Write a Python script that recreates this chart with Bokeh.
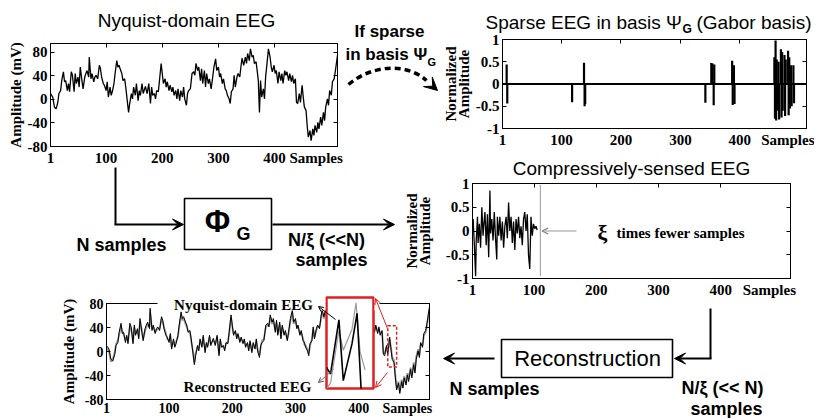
from bokeh.plotting import figure
from bokeh.models import (Range1d, LinearAxis, FixedTicker, Label, Arrow, VeeHead,
                          OpenHead, GridBox)
from bokeh.embed import file_html
from bokeh.resources import INLINE

SANS = "Liberation Sans"
SERIF = "Liberation Serif"

# ---------------- data ----------------
samples_x = [1, 5, 8, 11, 14, 16, 19, 21, 24, 26,
             28, 31, 33, 35, 38, 40, 43, 45, 47, 50,
             52, 54, 57, 59, 62, 64, 66, 69, 70, 73,
             75, 78, 80, 82, 85, 88, 90, 92, 95, 97,
             100, 102, 104, 107, 109, 111, 114, 116, 119, 121,
             123, 126, 128, 130, 133, 135, 138, 140, 142, 145,
             147, 149, 152, 154, 157, 159, 161, 164, 166, 170,
             173, 176, 179, 181, 183, 186, 188, 190, 193, 195,
             198, 200, 202, 205, 207, 209, 212, 214, 217, 219,
             221, 224, 226, 228, 231, 233, 236, 238, 240, 243,
             245, 247, 250, 253, 256, 258, 260, 263, 265, 268,
             270, 272, 275, 277, 279, 282, 284, 287, 289, 292,
             295, 297, 300, 302, 304, 307, 309, 312, 314, 316,
             319, 321, 323, 326, 328, 330, 333, 335, 338, 340,
             342, 345, 348, 350, 352, 355, 357, 360, 362, 364,
             367, 369, 371, 373, 375, 377, 380, 382, 384, 387,
             389, 392, 394, 396, 399, 401, 403, 406, 408, 411,
             413, 415, 418, 420, 422, 425, 427, 430, 432, 434,
             437, 439, 441, 444, 446, 449, 451, 453, 456, 458,
             460, 463, 465, 468, 470, 472, 475, 477, 479, 482,
             484, 487, 489, 491, 494, 496, 498, 501, 503, 506,
             508, 510, 512]
nyquist_eeg = [10, 4, -13, -16, -5, 10, 15, 32, 47, 30,
               32, 15, 27, 13, 47, 41, 13, 44, 27, 38,
               21, 55, 32, 18, 38, 44, 49, 38, 72, 35,
               44, 30, 38, 41, 35, 58, 52, 38, 27, 24,
               15, 30, 4, 21, 7, 13, 27, 44, 66, 55,
               58, 49, 44, 32, 35, 21, -5, -22, -7, 10,
               1, 21, 7, 27, -2, 15, 7, 27, 10, 22,
               10, 27, -7, 21, 7, 10, 1, 15, 13, 32,
               61, 44, 27, 35, 21, 30, 15, 24, 13, 21,
               7, 15, 1, 18, -2, 15, 4, 21, 1, -10,
               10, 15, 18, 44, 47, 41, 61, 49, 55, 32,
               52, 27, 49, 21, 44, 27, 35, 18, 32, 55,
               69, 49, 55, 38, 44, 27, 35, 18, 15, 7,
               1, -7, 13, 18, 41, 21, 38, 44, 38, 55,
               70, 58, 72, 61, 78, 66, 86, 72, 75, 61,
               64, 49, 32, -22, 32, 4, 18, 1, 38, 66,
               86, 72, 55, 47, 58, 44, 49, 27, 47, 32,
               44, 27, 49, 41, 47, 32, 44, 30, 41, 27,
               35, -5, -7, 10, -5, 24, 4, -13, -19, -44,
               -64, -53, -70, -50, -61, -44, -56, -39, -50, -30,
               -44, -22, -36, -13, 1, -10, 15, 7, 30, 35,
               47, 61, 75]
reconstructed_eeg = [6, 0, -17, -12, -1, 12, 19, 28, 42, 33,
                     29, 19, 24, 17, 42, 38, 17, 40, 30, 35,
                     24, 50, 35, 21, 35, 40, 46, 41, 66, 38,
                     41, 33, 35, 38, 38, 54, 49, 41, 30, 21,
                     18, 27, 8, 18, 10, 16, 24, 40, 61, 52,
                     55, 46, 41, 35, 32, 18, -1, -18, -3, 7,
                     4, 18, 10, 24, 2, 12, 10, 24, 13, 19,
                     13, 24, -3, 18, 10, 7, 4, 12, 16, 29,
                     56, 41, 30, 32, 24, 27, 18, 21, 16, 18,
                     10, 12, 4, 15, 1, 12, 7, 18, 4, -6,
                     7, 18, 21, 40, 44, 44, 57, 46, 52, 35,
                     48, 30, 45, 24, 41, 30, 32, 21, 29, 51,
                     64, 46, 52, 41, 41, 30, 32, 21, 12, 10,
                     4, -3, 10, 21, 37, 24, 35, 41, 41, 52,
                     66, 55, 68, 58, 74, 63, 82, 69, 72, 58,
                     61, 46, 28, -17, 28, 8, 15, 4, 34, 62,
                     82, 69, 52, 44, 55, 41, 46, 30, 44, 35,
                     41, 30, 46, 38, 44, 35, 41, 33, 38, 30,
                     32, -1, -4, 7, -1, 20, 7, -9, -15, -40,
                     -60, -50, -66, -47, -58, -41, -52, -36, -46, -27,
                     -40, -18, -32, -9, 4, -6, 12, 10, 26, 32,
                     44, 57, 70]

sparse_pos = [8, 9, 118, 138, 139, 140, 342, 352, 354, 356,
              357, 387, 388, 390, 391, 458, 459, 460, 461, 462,
              463, 465, 466, 469, 470, 471, 472, 475, 476, 477,
              481, 482, 483, 484, 486, 487, 490, 491]
sparse_val = [0.44, -0.44, -0.41, 0.48, -0.5, -0.45, -0.42, 0.47, 0.46, -0.48,
              0.44, 0.52, -0.47, 0.42, -0.45, 0.6, -0.78, 0.98, -0.82, 0.55,
              -0.6, 0.5, -0.8, 0.78, -0.75, 0.72, -0.6, 0.65, -0.72, 0.55,
              0.75, -0.7, 0.6, -0.55, 0.42, -0.5, 0.42, -0.43]

cs_x = [1, 2, 4, 6, 7, 9, 10, 12, 14, 16,
        18, 19, 21, 23, 25, 27, 29, 30, 32, 34,
        36, 38, 40, 41, 43, 45, 47, 49, 51, 53,
        55, 57, 59, 61, 63, 65, 67, 69, 71, 73,
        75, 77, 79, 81, 83, 85, 87, 89, 91, 93,
        95, 97, 99, 101, 103, 105]
cs_val = [0.05, 0.25, -0.3, -0.95, -0.2, 0.3, -0.25, 0.15, -0.35, 0.5,
          -0.1, 0.1, 0.4, -0.3, 0.35, -0.55, 0.85, -0.05, 0.25, -0.2,
          0.4, -0.15, -0.6, 0.3, -0.1, 0.3, -0.2, 0.2, -0.35, 0.1,
          0.3, -0.15, 0.6, 0.0, 0.3, -0.25, 0.2, -0.4, 0.25, -0.05,
          0.3, -0.15, 0.1, -0.3, 0.25, 0.4, 0.0, 0.35, -0.5, -0.8,
          0.3, -0.1, 0.15, 0.05, 0.1, 0.02]
cs_end = 110          # last compressed sample (grey marker line)
cs_arrow = [168, 113]  # "xi times fewer samples" pointer, in samples

zoom_x = [446, 460]   # dashed zoom window (samples)
zoom_y = [-26, 43]    # dashed zoom window (mV)
inset_orig_x = [446, 447.2, 449.7, 451.0, 453.6, 455.1, 456.3, 457.5]
inset_orig_v = [-10, -15, 26, -20, 8, 31, -26, -45]
inset_rec_x = [446, 447.2, 449.7, 451.0, 453.6, 454.8, 456.0, 457.5]
inset_rec_v = [-26, -22, 18, 3, 19, 39, 2, -12]

x_ticks = [1, 100, 200, 300, 400]
x_tick_labels = ["1", "100", "200", "300", "400"]
amp_ticks = [-80, -40, 0, 40, 80]
amp_tick_labels = ["-80", "-40", "0", "40", "80"]
norm_ticks = [-1, -0.5, 0, 0.5, 1]
norm_tick_labels = ["-1", "-0.5", "0", "0.5", "1"]

placements = []


def sub(left, top, bl, fw, br, bt, fh, bb, xr, yr):
    p = figure(width=bl + fw + br, height=bt + fh + bb, x_range=xr, y_range=yr,
               min_border_left=bl, min_border_right=br, min_border_top=bt,
               min_border_bottom=bb, frame_align=False,
               output_backend="svg", toolbar_location=None)
    p.border_fill_alpha = 0
    p.background_fill_color = "white"
    p.outline_line_color = "black"
    p.grid.visible = False
    placements.append((p, left, top, bl + fw + br, bt + fh + bb))
    return p


def common(ax):
    ax.major_tick_in = 4
    ax.major_tick_out = 0
    ax.minor_tick_line_color = None
    ax.axis_line_color = "black"
    ax.major_tick_line_color = "black"
    ax.major_label_text_font = SERIF
    ax.major_label_text_font_style = "bold"
    ax.major_label_text_color = "black"


def axes(p, yt, yl, ylabel, ystand, samples_at, tick_size="15px", lh=1.0, xstand=3,
         label_size="15px"):
    xa, ya = p.xaxis[0], p.yaxis[0]
    bottom_ticks = x_ticks + [samples_at]
    xa.ticker = FixedTicker(ticks=bottom_ticks)
    xa.major_label_overrides = dict(zip(bottom_ticks, x_tick_labels + ["Samples"]))
    ya.ticker = FixedTicker(ticks=yt)
    ya.major_label_overrides = dict(zip(yt, yl))
    for ax in (xa, ya):
        common(ax)
        ax.major_label_text_font_size = tick_size
    xa.major_tick_in = 0
    xa.major_label_standoff = xstand
    ya.major_label_standoff = 3
    ya.axis_label = ylabel
    ya.axis_label_text_font = SERIF
    ya.axis_label_text_font_style = "bold"
    ya.axis_label_text_font_size = label_size
    ya.axis_label_text_color = "black"
    ya.axis_label_text_line_height = lh
    ya.axis_label_standoff = ystand
    ta = LinearAxis(ticker=FixedTicker(ticks=x_ticks))
    ra = LinearAxis(ticker=FixedTicker(ticks=yt))
    for ax in (ta, ra):
        common(ax)
        ax.major_label_text_font_size = "1px"
        ax.major_label_text_color = None
        ax.major_label_standoff = 0
    p.add_layout(ta, "above")
    p.add_layout(ra, "right")


# ---------- panel 1: Nyquist-domain EEG ----------
p1 = sub(0, 0, 50, 287, 8, 43, 103, 22, Range1d(1, 512), Range1d(-80, 95))
axes(p1, amp_ticks, amp_tick_labels, "Amplitude (mV)", 1, 474)
p1.line(samples_x, nyquist_eeg, line_color="black", line_width=1.3)

# ---------- panel 2: sparse coefficients ----------
p2 = sub(420, 0, 82, 304, 8, 39, 89, 22, Range1d(1, 512), Range1d(-1, 1))
axes(p2, norm_ticks, norm_tick_labels, "Normalized\nAmplitude", 1, 486, lh=0.8)
p2.line([1, 512], [0, 0], line_color="black", line_width=1.8)
p2.segment(x0=sparse_pos, y0=[0] * len(sparse_pos), x1=sparse_pos, y1=sparse_val,
           line_color="black", line_width=2.2)

# ---------- panel 3: compressively-sensed ----------
p3 = sub(400, 150, 70, 320, 12, 33, 95, 22, Range1d(1, 512), Range1d(-1, 1))
axes(p3, norm_ticks, norm_tick_labels, "Normalized\nAmplitude", 10, 478, lh=0.8)
p3.line(cs_x, cs_val, line_color="black", line_width=1.3)
p3.segment(x0=[cs_end], y0=[-0.95], x1=[cs_end], y1=[0.97], line_color="#999999", line_width=1)
p3.add_layout(Arrow(x_start=cs_arrow[0], y_start=0, x_end=cs_arrow[1], y_end=0,
                    line_color="#999999", line_width=1.2,
                    end=OpenHead(size=6, line_color="#777777", line_width=1.2)))

# ---------- panel 4: reconstruction comparison ----------
p4 = sub(50, 290, 56, 323, 7, 13, 99, 16, Range1d(1, 512), Range1d(-80, 80))
axes(p4, amp_ticks, amp_tick_labels, "Amplitude (mV)", 5, 477, tick_size="14px", xstand=1)
p4.line(samples_x, reconstructed_eeg, line_color="#9a9a9a", line_width=1.8)
p4.line(samples_x, nyquist_eeg, line_color="black", line_width=1.0)
p4.quad(left=[zoom_x[0]], right=[zoom_x[1]], bottom=[zoom_y[0]], top=[zoom_y[1]],
        fill_color=None, line_color="#e02020", line_width=1.5, line_dash="3 2")

# ---------- inset (magnified zoom window) ----------
ins = figure(width=51, height=95, x_range=Range1d(zoom_x[0], zoom_x[1]),
             y_range=Range1d(zoom_y[0], zoom_y[1]), min_border=2, frame_align=False,
             x_axis_type=None, y_axis_type=None, output_backend="svg",
             toolbar_location=None)
ins.border_fill_alpha = 0
ins.background_fill_color = "white"
ins.outline_line_color = "#e02020"
ins.outline_line_width = 2.5
ins.grid.visible = False
ins.line(inset_rec_x, inset_rec_v, line_color="#9a9a9a", line_width=1.2)
ins.line(inset_orig_x, inset_orig_v, line_color="black", line_width=1.6)
placements.append((ins, 324, 295, 51, 95))

# ---------- diagram canvas (on top, transparent) ----------
W, H = 816, 418
cv = figure(width=W, height=H, x_range=Range1d(0, W), y_range=Range1d(H, 0),
            min_border=0, frame_align=False, x_axis_type=None, y_axis_type=None,
            output_backend="svg", toolbar_location=None)
cv.outline_line_color = None
cv.background_fill_alpha = 0
cv.border_fill_alpha = 0
cv.grid.visible = False


def txt(x, y, s, size, font=SANS, style="normal", align="center", color="black"):
    cv.add_layout(Label(x=x, y=y, text=s, text_font=font, text_font_style=style,
                        text_font_size=size, text_align=align, text_baseline="middle",
                        text_color=color))


def arrow(x0, y0, x1, y1, color="black", width=2, head=None):
    if head is None:
        head = VeeHead(size=11, fill_color=color, line_color=color)
    cv.add_layout(Arrow(x_start=x0, y_start=y0, x_end=x1, y_end=y1,
                        line_color=color, line_width=width, end=head))


# titles
txt(186, 20, "Nyquist-domain EEG", "19px")
txt(485, 22, "Sparse EEG in basis \u03a8", "19px", align="left")
txt(682, 28, "G", "12px", style="bold", align="left")
txt(696, 22, "(Gabor basis)", "19px", align="left")
txt(631, 168, "Compressively-sensed EEG", "19px")

# dashed "if sparse" arrow
txt(389, 31, "If sparse", "17px", style="bold")
txt(345, 54, "in basis \u03a8", "17px", style="bold", align="left")
txt(427, 61, "G", "11px", style="bold", align="left")
cv.bezier(x0=[348], y0=[84], x1=[426], y1=[80], cx0=[372], cy0=[64], cx1=[406], cy1=[62],
          line_color="black", line_width=3.5, line_dash="6 4")
cv.add_layout(Arrow(x_start=426, y_start=80, x_end=437, y_end=90, line_color=None,
                    end=VeeHead(size=13, fill_color="black", line_color="black")))

# sensing matrix block
cv.line([115, 115], [167, 224], line_color="black", line_width=2)
arrow(114, 224, 183, 224)
cv.quad(left=[184], right=[271], top=[198], bottom=[249], fill_color=None,
        line_color="black", line_width=1.6)
txt(217, 221, "\u03a6", "31px", style="bold")
txt(236, 233, "G", "18px", style="bold", align="left")
arrow(272, 224, 394, 224)
txt(121, 244, "N samples", "18px", style="bold")
txt(326, 239, "N/\u03be (<<N)", "18px", style="bold")
txt(331, 259, "samples", "18px", style="bold")

# compressed panel annotation
txt(602, 232, "\u03be", "22px", font=SERIF, style="bold")
txt(616, 232, "times fewer samples", "15px", font=SERIF, style="bold", align="left")

# reconstruction block
cv.line([710, 710], [308, 358], line_color="black", line_width=2)
arrow(711, 358, 674, 358)
cv.quad(left=[501], right=[672], top=[339], bottom=[377], fill_color=None,
        line_color="black", line_width=1.6)
txt(587, 358, "Reconstruction", "22px")
arrow(494, 358, 443, 358)
txt(494, 388, "N samples", "18px", style="bold")
txt(722, 387, "N/\u03be (<< N)", "18px", style="bold")
txt(726, 408, "samples", "18px", style="bold")

# panel 4 annotations
cv.quad(left=[157, 374], right=[325, 379], top=[297, 297], bottom=[310, 310],
        fill_color="white", line_color=None)
txt(243, 304, "Nyquist-domain EEG", "15px", font=SERIF, style="bold")
txt(247, 386, "Reconstructed EEG", "15px", font=SERIF, style="bold")
arrow(335, 319, 318, 306, width=1, head=OpenHead(size=5, line_color="black", line_width=1))
arrow(333, 369, 318, 382, color="#777777", width=1,
      head=OpenHead(size=5, line_color="#555555", line_width=1))
arrow(387, 328, 375, 298, color="#e02020", width=1,
      head=OpenHead(size=6, line_color="#e02020", line_width=1))
arrow(387, 372, 375, 387, color="#e02020", width=1,
      head=OpenHead(size=6, line_color="#e02020", line_width=1))

placements.append((cv, 0, 0, W, H))

# ---------- overlapping grid layout ----------
xs = sorted(set([0, W] + [l for _, l, t, w, h in placements] + [l + w for _, l, t, w, h in placements]))
ys = sorted(set([0, H] + [t for _, l, t, w, h in placements] + [t + h for _, l, t, w, h in placements]))
children = []
for fig, l, t, w, h in placements:
    c0, c1 = xs.index(l), xs.index(l + w)
    r0, r1 = ys.index(t), ys.index(t + h)
    children.append((fig, r0, c0, r1 - r0, c1 - c0))
grid = GridBox(children=children,
               cols=["%dpx" % (b - a) for a, b in zip(xs, xs[1:])],
               rows=["%dpx" % (b - a) for a, b in zip(ys, ys[1:])])

open("out.html", "w").write(file_html(grid, INLINE))
